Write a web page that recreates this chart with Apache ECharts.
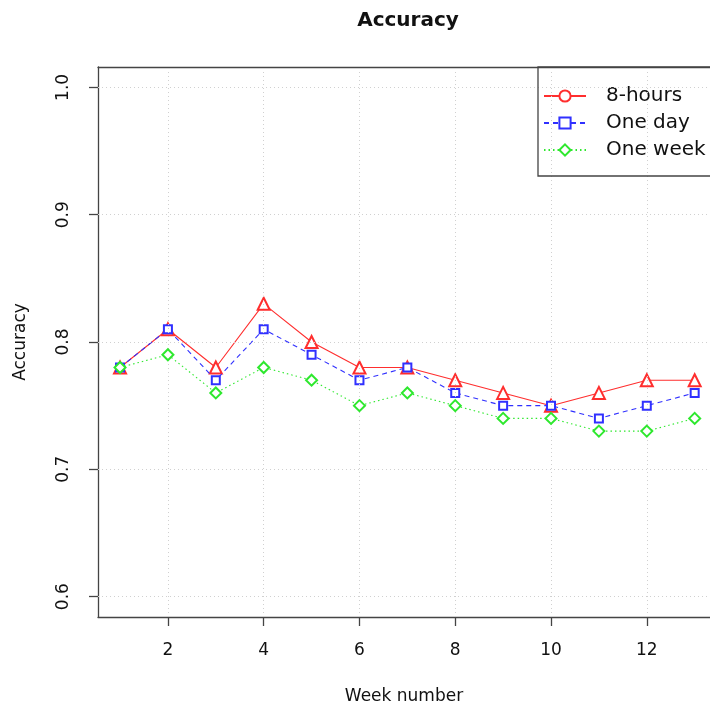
<!DOCTYPE html>
<html>
<head>
<meta charset="utf-8">
<script src="https://cdn.jsdelivr.net/npm/echarts@6/dist/echarts.min.js"></script>
<style>
  html, body { margin: 0; padding: 0; background: #fff; }
  #chart { width: 710px; height: 711px; }
</style>
</head>
<body>
<div id="chart"></div>
<script>
// Weekly accuracy for three prediction horizons
const weeks = [1, 2, 3, 4, 5, 6, 7, 8, 9, 10, 11, 12, 13];
const eightHours = [0.78, 0.81, 0.78, 0.83, 0.80, 0.78, 0.78, 0.77, 0.76, 0.75, 0.76, 0.77, 0.77];
const oneDay     = [0.78, 0.81, 0.77, 0.81, 0.79, 0.77, 0.78, 0.76, 0.75, 0.75, 0.74, 0.75, 0.76];
const oneWeek    = [0.78, 0.79, 0.76, 0.78, 0.77, 0.75, 0.76, 0.75, 0.74, 0.74, 0.73, 0.73, 0.74];
const xTicks = [2, 4, 6, 8, 10, 12];
const yTicks = [0.6, 0.7, 0.8, 0.9, 1.0];
const seriesNames = ['8-hours', 'One day', 'One week'];

const FONT = '"DejaVu Sans", Verdana, sans-serif';
const RED = '#ff2e2e', BLUE = '#3030ff', GREEN = '#2ee82e';
const AXIS = '#444';
const INK = '#111';

const pairs = arr => weeks.map((w, i) => [w, arr[i]]);

const chart = echarts.init(document.getElementById('chart'), null, { renderer: 'canvas' });

chart.setOption({
  animation: false,
  backgroundColor: '#fff',
  textStyle: { fontFamily: FONT },
  // plot region runs off the right edge of the canvas
  grid: { left: 98, top: 67, right: 0, bottom: 94, show: false },
  xAxis: [
    {
      type: 'value', min: 0.54, max: 13.32,
      name: 'Week number', nameLocation: 'middle', nameGap: 71,
      nameTextStyle: { fontSize: 17, color: INK, fontFamily: FONT },
      axisLine: { show: true, onZero: false, lineStyle: { color: AXIS, width: 1.3 } },
      axisTick: { show: true, length: 9, lineStyle: { color: AXIS, width: 1.3 },
        customValues: xTicks },
      axisLabel: { fontSize: 17, color: INK, margin: 25, customValues: xTicks },
      splitLine: { show: false }
    },
    {
      // top edge of the plot frame
      type: 'value', position: 'top', min: 0.54, max: 13.32,
      axisLine: { show: true, onZero: false, lineStyle: { color: AXIS, width: 1.3 } },
      axisTick: { show: false }, axisLabel: { show: false }, splitLine: { show: false }
    }
  ],
  yAxis: {
    type: 'value', min: 0.584, max: 1.016,
    name: 'Accuracy', nameLocation: 'middle', nameGap: 69,
    nameTextStyle: { fontSize: 17, color: INK, fontFamily: FONT },
    axisLine: { show: true, onZero: false, lineStyle: { color: AXIS, width: 1.3 } },
    axisTick: { show: true, length: 9, lineStyle: { color: AXIS, width: 1.3 },
      customValues: yTicks },
    axisLabel: { fontSize: 17, color: INK, margin: 26, rotate: 90,
      customValues: yTicks, formatter: v => v.toFixed(1) },
    splitLine: { show: false }
  },
  legend: {
    orient: 'vertical', left: 543, top: 86, padding: 0,
    itemWidth: 42, itemHeight: 14, itemGap: 7,
    data: seriesNames,
    textStyle: { fontSize: 20, color: INK, fontFamily: FONT, padding: [0, 0, 0, 15] },
    selectedMode: false
  },
  graphic: [
    { type: 'text', x: 408, y: 21, style: { text: 'Accuracy', font: 'bold 20px ' + FONT,
      fill: INK, textAlign: 'center', textVerticalAlign: 'middle' } },
    { type: 'rect', shape: { x: 538, y: 67, width: 200, height: 109 },
      style: { fill: 'transparent', stroke: AXIS, lineWidth: 1.3 }, z: 10 }
  ],
  series: [
    // dotted reference grid at the tick positions
    {
      name: 'grid', type: 'line', data: [], silent: true,
      markLine: {
        silent: true, symbol: 'none', label: { show: false },
        lineStyle: { color: '#d0d0d0', type: [1, 3], width: 1 },
        data: xTicks.map(v => ({ xAxis: v })).concat(yTicks.map(v => ({ yAxis: v })))
      }
    },
    {
      name: 'eightHoursPoints', type: 'line', data: pairs(eightHours),
      symbol: 'emptyTriangle', symbolSize: 12,
      lineStyle: { color: RED, width: 1.1, type: 'solid' },
      itemStyle: { color: RED, borderWidth: 1.1 }, z: 3
    },
    {
      name: '8-hours', type: 'line', data: [],
      symbol: 'emptyCircle', symbolSize: 10,
      lineStyle: { color: RED, width: 1.1, type: 'solid' },
      itemStyle: { color: RED, borderWidth: 1.1 }
    },
    {
      name: 'One day', type: 'line', data: pairs(oneDay),
      symbol: 'emptyRect', symbolSize: 8,
      lineStyle: { color: BLUE, width: 1.1, type: [5, 4] },
      itemStyle: { color: BLUE, borderWidth: 1.1 }, z: 4
    },
    {
      name: 'One week', type: 'line', data: pairs(oneWeek),
      symbol: 'emptyDiamond', symbolSize: 11,
      lineStyle: { color: GREEN, width: 1.1, type: [1.5, 3] },
      itemStyle: { color: GREEN, borderWidth: 1.1 }, z: 5
    }
  ]
});
</script>
</body>
</html>
